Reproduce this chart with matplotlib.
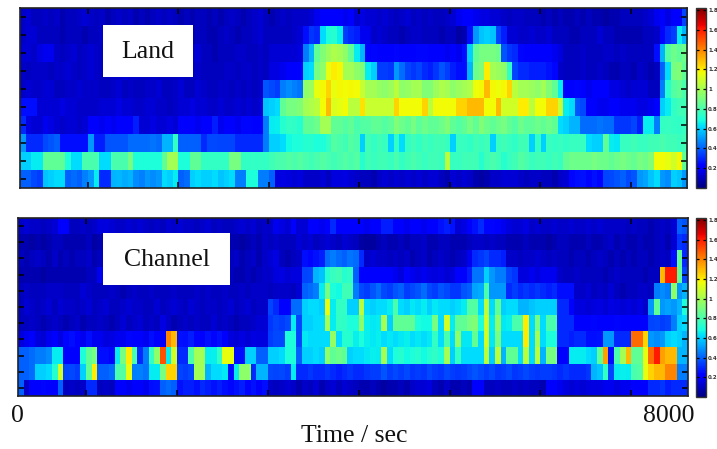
import numpy as np
import matplotlib
matplotlib.use("Agg")
import matplotlib.pyplot as plt
from matplotlib.patches import Rectangle

# spectrogram values in hundredths, top row first
land_r0 = [12,14,10,10,12,10,12,8,10,10, 12,14,12,10,12,8,10,12,10,12, 8,10,8,10,12,10,12,10,8,10,
           8,10,10,8,10,8,10,12,10,8, 10,12,14,10,8,10,12,10,12,12, 12,14,18,22,22,20,20,18,20,14,
           16,14,14,12,14,12,10,12,14,10, 12,10,12,10,10,12,14,18,20,20, 18,16,16,14,14,12,10,12,12,10,
           10,10,8,10,8,10,8,8,10,8, 10,8,8,6,8,8,10,10,10,10, 12,14,18,20,16,22,22,35]
land_r1 = [12,14,14,10,10,10,10,8,10,10, 10,8,10,10,12,8,10,12,14,10, 10,8,10,12,10,10,10,8,10,10,
           8,10,10,8,8,10,12,10,8,10, 10,12,14,10,10,10,10,10,12,14, 25,32,30,62,70,72,66,34,30,28,
           18,18,12,14,12,10,10,8,10,12, 12,10,10,10,8,10,10,6,8,25, 50,58,60,58,35,28,14,14,12,12,
           14,12,12,14,10,10,10,8,8,10, 10,10,14,10,10,8,8,8,8,8, 10,10,12,24,30,34,65,55]
land_r2 = [14,14,12,16,18,18,12,10,12,14, 10,12,14,12,10,12,12,14,10,10, 10,12,10,10,10,10,12,10,10,12,
           12,14,10,10,8,10,10,10,12,12, 10,10,12,10,14,14,14,14,14,15, 45,55,85,92,98,102,100,95,85,65,
           55,22,24,20,20,20,24,22,20,20, 24,24,22,20,20,18,20,18,25,60, 85,90,90,90,88,38,32,30,24,22,
           22,20,20,20,18,15,10,10,10,12, 10,10,10,12,12,10,12,10,10,10, 10,10,25,55,82,88,84,88]
land_r3 = [12,10,12,12,12,10,12,12,14,12, 10,12,14,12,10,10,12,12,14,12, 12,10,10,12,10,10,10,10,12,10,
           10,12,10,10,10,10,12,12,10,12, 12,10,12,10,16,16,18,20,20,22, 60,62,90,95,115,120,118,100,100,95,
           92,65,60,34,34,32,50,42,35,32, 35,30,28,32,38,34,28,25,25,55, 88,92,120,100,98,95,75,35,30,30,
           28,28,28,26,24,12,10,10,10,12, 10,10,12,10,8,8,10,10,8,12, 10,8,10,40,62,90,92,85]
land_r4 = [12,14,12,12,14,14,10,10,12,12, 14,12,12,12,10,10,12,14,10,12, 10,10,12,12,14,10,10,12,14,10,
           10,14,12,10,10,12,12,10,12,10, 12,10,12,38,36,34,45,48,46,44, 95,98,115,118,125,115,118,117,118,117,
           108,100,100,96,95,98,105,95,96,100, 100,92,92,98,102,100,95,98,100,102, 116,118,130,118,116,118,125,105,100,100,
           98,95,100,92,85,65,22,22,24,20, 18,20,22,20,16,16,14,12,14,14, 14,10,10,45,72,82,85,80]
land_r5 = [25,25,25,14,14,14,14,16,14,14, 12,12,12,12,14,14,14,16,14,14, 12,12,14,14,12,12,10,12,14,14,
           16,14,14,12,12,14,12,12,14,12, 14,12,14,58,60,62,85,90,90,92, 100,102,105,117,130,112,114,117,105,105,
           122,108,108,108,108,108,125,117,117,117, 117,125,105,117,117,117,117,125,125,130, 130,130,117,117,130,110,110,110,120,120,
           105,117,117,125,125,108,65,62,38,36, 22,20,18,18,22,20,18,18,18,16, 16,18,20,60,65,75,78,78]
land_r6 = [30,16,14,14,18,16,14,12,14,14, 12,14,20,20,18,20,18,22,20,20, 28,14,14,16,14,14,16,14,20,22,
           20,18,20,22,28,18,22,22,18,24, 24,22,22,45,65,66,72,75,74,72, 85,85,88,100,100,85,85,82,85,80,
           82,82,85,85,82,85,92,88,85,90, 84,88,85,85,88,92,85,82,85,90, 85,92,88,85,88,90,85,82,88,84,
           85,88,85,88,85,62,60,55,55,42, 42,42,44,42,42,32,32,32,35,28, 65,65,45,75,76,75,74,76]
land_r7 = [50,30,30,30,36,38,40,25,25,25, 25,25,50,28,28,38,38,38,38,42, 42,42,42,44,42,55,55,75,40,40,
           40,40,30,36,36,35,35,35,30,30, 30,30,30,45,60,60,62,68,70,70, 72,72,70,70,75,82,80,78,82,80,
           60,78,75,78,76,60,75,62,75,78, 75,78,76,78,78,76,60,76,76,74, 78,76,78,60,76,78,76,74,78,78,
           60,75,60,76,75,76,74,76,76,76, 62,60,60,85,65,64,76,76,78,76, 76,78,78,80,78,78,76,78]
land_r8 = [60,60,65,65,85,85,85,85,70,62, 62,80,80,80,62,62,80,80,80,90, 70,70,70,70,70,85,100,100,70,70,
           85,85,75,75,75,75,75,90,90,75, 75,75,75,75,78,80,80,82,80,82, 80,78,80,82,80,78,80,82,80,82,
           72,78,76,78,78,76,80,75,78,80, 78,76,78,78,76,105,76,76,78,78, 78,72,78,80,78,72,76,78,82,80,
           76,78,78,76,78,76,85,88,88,88, 88,90,88,88,85,88,90,88,86,90, 88,92,117,117,115,110,118,85]
land_r9 = [40,40,36,34,58,60,62,62,40,42, 40,46,50,65,30,30,55,56,54,55, 48,46,50,48,50,62,60,65,40,42,
           60,62,60,60,62,58,60,62,45,45, 70,70,45,45,40,15,16,15,14,15, 12,12,12,14,10,15,15,16,14,12,
           10,10,8,12,14,12,14,12,14,12, 14,12,14,14,10,8,14,12,14,12, 8,6,8,12,12,14,14,14,12,10,
           12,12,10,10,8,12,14,24,25,26, 24,26,24,35,36,38,40,36,38,50, 52,58,62,50,48,60,58,50]

chan_r0 = [12,14,12,12,10,12,14,22,22,10, 10,12,10,12,15,15,14,12,12,14, 12,14,12,10,12,10,14,12,14,12,
           12,10,12,14,10,12,10,10,12,14, 12,14,10,12,12,18,16,14,20,14, 14,20,22,18,22,30,22,20,20,20,
           20,18,20,20,28,28,22,20,18,20, 20,18,22,20,26,28,26,14,16,20, 26,30,24,24,22,18,15,14,14,16,
           12,14,12,12,14,12,12,14,12,12, 14,12,14,12,12,12,12,10,12,10, 10,8,10,12,10,14,40,38]
chan_r1 = [8,8,6,8,6,8,10,10,8,8, 8,8,10,6,8,10,8,6,8,8, 10,8,8,10,8,6,8,8,10,10,
           8,8,6,8,8,10,8,8,8,6, 8,10,8,12,10,12,10,10,10,14, 12,14,10,12,14,12,10,14,12,10,
           6,5,5,8,10,8,8,10,8,10, 10,12,8,8,10,10,8,8,8,10, 12,12,10,12,10,10,8,8,8,10,
           8,8,8,6,8,10,10,8,8,8, 10,8,8,10,12,8,10,8,8,10, 8,8,10,12,8,14,32,30]
chan_r2 = [10,8,10,12,10,8,12,8,10,8, 10,10,12,8,10,10,12,10,8,10, 8,10,10,12,10,8,10,12,8,10,
           10,12,8,10,10,8,10,10,12,8, 10,12,8,12,14,16,10,8,10,12, 25,24,26,28,42,45,42,40,44,42,
           30,12,14,12,12,10,12,10,12,8, 10,12,8,10,12,10,8,10,12,18, 30,32,35,30,30,28,12,12,10,12,
           12,14,12,10,12,10,10,8,10,10, 8,10,12,10,8,10,8,10,8,10, 10,8,10,12,10,25,85,30]
chan_r3 = [8,8,8,8,6,8,8,8,8,8, 8,8,10,10,18,18,8,8,10,8, 8,8,10,8,8,10,8,10,8,8,
           10,8,10,8,8,10,8,10,8,8, 10,8,10,12,12,15,16,14,15,15, 35,36,55,58,72,76,78,72,74,40,
           20,22,22,20,22,20,18,15,20,18, 16,18,16,15,16,14,15,22,22,28, 44,44,60,50,45,45,35,32,15,15,
           18,15,18,18,18,12,10,10,12,10, 10,10,10,8,10,12,10,10,10,10, 8,10,10,130,160,160,85,35]
chan_r4 = [10,12,10,10,10,12,12,12,10,10, 10,14,12,10,10,10,12,10,8,10, 12,10,10,12,10,10,10,12,10,10,
           10,12,10,12,10,10,12,10,10,12, 10,12,12,12,10,12,12,12,10,14, 40,42,45,65,90,70,68,78,78,45,
           36,34,38,42,36,34,38,40,34,36, 38,42,36,34,38,36,32,32,38,40, 52,54,80,50,50,50,30,34,30,32,
           30,32,30,28,30,25,25,25,12,12, 14,10,12,10,14,10,8,10,10,12, 12,10,45,48,45,95,50,55]
chan_r5 = [10,14,12,10,12,14,10,14,12,12, 10,12,14,10,12,14,10,10,12,14, 12,12,10,10,14,10,12,14,12,10,
           14,12,10,12,12,10,12,14,10,12, 14,10,12,12,35,30,20,20,42,42, 60,62,62,60,115,65,75,75,60,60,
           105,62,60,62,62,65,80,62,60,64, 62,65,60,64,62,62,60,62,65,82, 82,62,105,62,85,60,62,62,55,55,
           58,60,60,60,60,30,30,20,15,15, 14,15,16,14,16,15,14,15,14,16, 12,50,85,50,52,50,55,70]
chan_r6 = [10,10,12,10,8,10,12,10,8,10, 12,8,10,10,12,10,8,10,14,10, 12,14,10,12,10,16,12,8,10,12,
           10,12,10,10,14,10,12,10,8,10, 10,12,14,14,32,35,34,36,65,35, 60,60,62,62,100,65,75,74,70,70,
           95,66,64,65,100,60,85,85,85,85, 70,68,68,90,62,110,65,85,85,90, 92,70,110,65,95,64,66,80,80,120,
           62,90,62,80,80,30,30,30,22,22, 22,24,22,20,22,24,20,22,22,20, 22,35,36,34,35,45,60,62]
chan_r7 = [15,18,20,15,14,18,22,16,24,25, 20,18,25,18,18,15,16,18,18,24, 22,20,18,25,22,20,140,130,26,25,
           28,24,22,26,24,26,22,15,14,16, 14,16,15,15,34,36,36,70,70,35, 64,62,62,62,62,96,62,72,72,66,
           70,66,64,66,62,64,62,64,66,62, 64,62,64,75,62,80,62,95,64,64, 85,62,110,64,90,62,62,62,62,120,
           62,100,62,70,70,30,30,28,30,30, 25,25,26,50,50,30,30,30,145,145, 125,50,48,50,60,62,60,55]
chan_r8 = [40,40,42,45,45,48,65,65,20,22, 20,70,85,90,25,25,24,65,90,120, 80,30,45,75,95,150,65,110,30,30,
           80,100,100,65,66,75,115,115,25,25, 60,60,40,40,60,60,62,70,70,40, 60,60,62,60,95,85,88,85,60,62,
           62,64,66,65,100,62,70,72,68,70, 72,68,72,74,70,100,60,75,62,62, 62,62,105,60,105,55,85,85,62,105,
           62,105,55,90,90,20,20,65,65,65, 62,60,85,135,25,80,100,130,85,85, 115,145,160,135,130,130,55,55]
chan_r9 = [40,40,42,60,60,62,72,110,35,36, 34,60,85,120,40,40,42,80,82,115, 45,46,44,65,65,90,125,125,35,34,
           36,100,100,55,62,62,64,25,65,95, 95,30,55,55,36,35,36,34,65,30, 30,32,30,30,32,30,28,30,32,30,
           30,32,34,34,38,34,36,34,36,32, 34,32,36,34,32,36,34,32,34,36, 38,36,34,36,32,34,36,32,34,36,
           34,32,34,34,32,30,32,30,30,30, 32,55,58,75,35,65,66,65,80,82, 115,125,130,130,140,140,45,45]
chan_r10 = [40,12,22,22,24,22,20,40,10,12, 10,12,30,30,10,12,10,20,22,18, 20,22,18,25,26,40,42,40,26,28,
            28,26,30,28,26,28,25,24,26,28, 24,26,22,25,12,10,12,14,12,8, 12,10,14,8,12,14,10,14,12,10,
            8,8,10,8,6,8,8,10,8,12, 14,14,15,10,8,12,8,8,10,8, 22,22,10,10,12,10,10,12,10,12,
            10,10,8,20,20,18,15,14,15,14, 15,16,16,18,18,16,18,18,22,22, 22,30,30,32,28,30,30,30]

land = np.array([land_r0, land_r1, land_r2, land_r3, land_r4,
                 land_r5, land_r6, land_r7, land_r8, land_r9]) / 100.0
channel = np.array([chan_r0, chan_r1, chan_r2, chan_r3, chan_r4, chan_r5,
                    chan_r6, chan_r7, chan_r8, chan_r9, chan_r10]) / 100.0

cbar_ticks = [0.2, 0.4, 0.6, 0.8, 1, 1.2, 1.4, 1.6, 1.8]
cbar_labels = ["0.2", "0.4", "0.6", "0.8", "1", "1.2", "1.4", "1.6", "1.8"]
time_ticks = [11.5, 27.5, 43.5, 59.5, 75.5, 91.5, 107.5]

W, H = 717.0, 449.0
plt.rcParams['font.family'] = ['Liberation Serif', 'DejaVu Serif']


def px_rect(x0, y0, x1, y1):
    return [x0 / W, 1 - y1 / H, (x1 - x0) / W, (y1 - y0) / H]


def panel(fig, data, rect, cbar_rect):
    ax = fig.add_axes(px_rect(*rect))
    im = ax.imshow(data, aspect='auto', cmap='jet', vmin=0, vmax=1.82,
                   interpolation='nearest')
    ax.set_xticks(time_ticks)
    ax.set_yticks(np.arange(data.shape[0]))
    ax.tick_params(direction='in', top=True, right=True, length=4, width=1.1,
                   labelbottom=False, labelleft=False)
    for s in ax.spines.values():
        s.set_linewidth(1.2)
        s.set_color('#222222')

    cax = fig.add_axes(px_rect(*cbar_rect))
    cb = fig.colorbar(im, cax=cax)
    cb.set_ticks(cbar_ticks)
    cb.set_ticklabels(cbar_labels)
    cax.tick_params(direction='in', left=True, right=True, length=2, width=0.9,
                    labelsize=4, pad=1.5)
    for lab in cax.get_yticklabels():
        lab.set_fontfamily('DejaVu Sans')
        lab.set_fontweight('bold')
        lab.set_color('#333333')
    cb.outline.set_linewidth(1.0)
    cb.outline.set_edgecolor('#333333')
    return ax


fig = plt.figure(figsize=(W / 100, H / 100), dpi=100)
panel(fig, land, (20, 8, 687.5, 188), (696, 8, 706, 188))
panel(fig, channel, (18, 218, 688, 396), (696, 218, 706, 397))

# white label boxes sit on top of the heatmaps
for (x0, y0, x1, y1), name in [((103, 25, 193, 77), "Land"),
                               ((103, 233, 230, 285), "Channel")]:
    fig.add_artist(Rectangle((x0 / W, 1 - y1 / H), (x1 - x0) / W, (y1 - y0) / H,
                             transform=fig.transFigure, fc='white', ec='none', zorder=5))
    fig.text((x0 + x1) / 2 / W, 1 - ((y0 + y1) / 2 + 1) / H, name, fontsize=18.5,
             ha='center', va='center', color='#111111', zorder=6)

fig.text(17 / W, 1 - 416 / H, "0", fontsize=18.5, ha='center', va='center', color='#111111')
fig.text(669 / W, 1 - 416 / H, "8000", fontsize=18.5, ha='center', va='center', color='#111111')
fig.text(354 / W, 1 - 436 / H, "Time / sec", fontsize=18.5, ha='center', va='center', color='#111111')

fig.savefig("out.png", dpi=100)
